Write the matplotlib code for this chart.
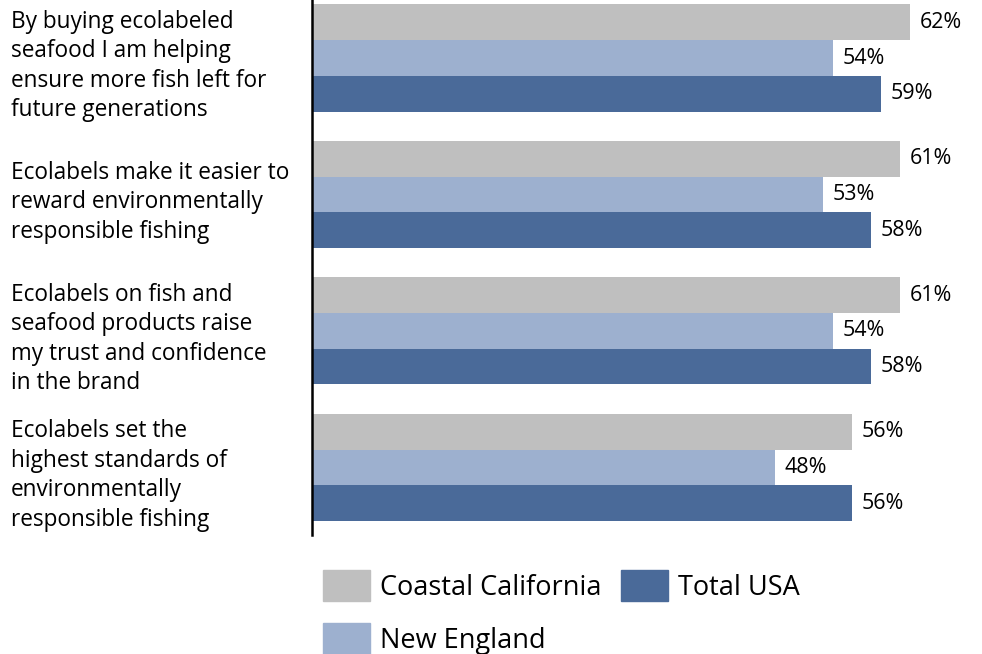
import numpy as np
import matplotlib.pyplot as plt
from matplotlib.patches import Patch

plt.rcParams['font.family'] = ['Open Sans', 'DejaVu Sans']

statements = [
    "By buying ecolabeled\nseafood I am helping\nensure more fish left for\nfuture generations",
    "Ecolabels make it easier to\nreward environmentally\nresponsible fishing",
    "Ecolabels on fish and\nseafood products raise\nmy trust and confidence\nin the brand",
    "Ecolabels set the\nhighest standards of\nenvironmentally\nresponsible fishing",
]
series = ["Coastal California", "New England", "Total USA"]
coastal_ca = [62, 61, 61, 56]
new_england = [54, 53, 54, 48]
total_usa = [59, 58, 58, 56]
colors = ["#BFBFBF", "#9DB0CF", "#4A6A99"]

fig = plt.figure(figsize=(9.82, 6.54), dpi=100)
ax = fig.add_axes([312 / 982, 1 - 535 / 654, 1 - 312 / 982, 535 / 654])

y = np.arange(len(statements))
h = 0.2615
offsets = [-h, 0, h]
for vals, off, col in zip([coastal_ca, new_england, total_usa], offsets, colors):
    bars = ax.barh(y + off, vals, height=h, color=col)
    for b, v in zip(bars, vals):
        ax.text(v + 1.0, b.get_y() + b.get_height() / 2, f"{v}%",
                va="center", ha="left", fontsize=15.5)

ax.set_xlim(0, 69.5)
ax.set_ylim(3.495, -0.425)
for s in ["top", "right", "bottom"]:
    ax.spines[s].set_visible(False)
ax.spines["left"].set_linewidth(1.8)
ax.set_xticks([])
ax.set_yticks([])

for i, s in enumerate(statements):
    fig.text(11 / 982, 1 - (58 + 136.5 * i + 8) / 654, s, ha="left", va="center",
             fontsize=16.3, linespacing=1.3)

handles = [Patch(color=c) for c in colors]
fig.legend(handles, series, loc="upper left", bbox_to_anchor=(323 / 982, 1 - 570 / 654),
           ncol=2, frameon=False, fontsize=19.5, handlelength=1.74, handleheight=1.4,
           handletextpad=0.38, columnspacing=0.7, labelspacing=0.8,
           borderpad=0, borderaxespad=0)

fig.savefig("out.png", dpi=100)
